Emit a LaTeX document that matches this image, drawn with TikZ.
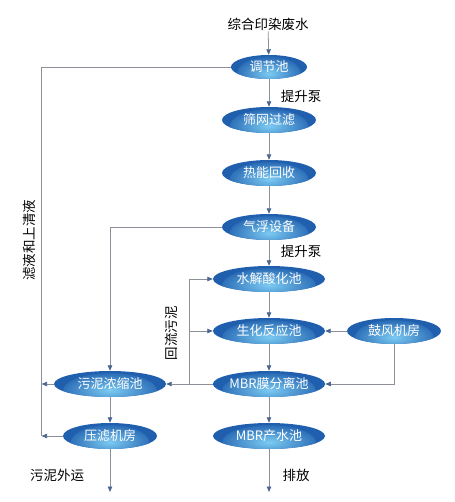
\documentclass[tikz,border=0pt]{standalone}
\usepackage{fontspec}
\setmainfont{Noto Sans CJK SC}
\usetikzlibrary{arrows.meta,shapes.geometric}
\definecolor{elldark}{HTML}{1F5FAE}
\definecolor{elllight}{HTML}{7CCBF2}
\definecolor{linegray}{HTML}{8C9098}
\definecolor{tipblue}{HTML}{4A6690}
\tikzset{
  proc/.style={ellipse, inner sep=0pt, minimum height=26pt, minimum width=#1,
    fill=elldark, text=white, font=\fontsize{13}{15}\selectfont,
    path picture={\shade[inner color=elllight, outer color=elldark]
      ([yshift=-7pt]path picture bounding box.center) ellipse [x radius=0.42*#1, y radius=18pt];}},
  proc/.default=94pt,
  conn/.style={draw=linegray, line width=0.8pt},
  arr/.style={conn, -{Triangle[width=4.5pt,length=5.5pt,color=tipblue]}},
  lbl/.style={text=black, font=\fontsize{13.5}{15}\selectfont, inner sep=1pt}
}
\begin{document}
\begin{tikzpicture}[x=1pt,y=-1pt]
\useasboundingbox (0,0) rectangle (454,502);
\node[lbl] (src) at (268,24) {综合印染废水};
\node[proc=76pt, minimum height=24pt] (tj) at (269,67) {调节池};
\node[proc] (sw) at (269,120) {筛网过滤};
\node[proc] (rn) at (269,173) {热能回收};
\node[proc] (qf) at (269,227) {气浮设备};
\node[proc=112pt] (sj) at (269,279) {水解酸化池};
\node[proc=112pt] (sh) at (269,331) {生化反应池};
\node[proc] (gf) at (394,331) {鼓风机房};
\node[proc=112pt] (mbr) at (269,384) {MBR膜分离池};
\node[proc=112pt] (wn) at (110,384) {污泥浓缩池};
\node[proc] (yl) at (110,436) {压滤机房};
\node[proc=112pt] (cs) at (269,436) {MBR产水池};
\node[lbl] (p1) at (301,96) {提升泵};
\node[lbl] (p2) at (301,251) {提升泵};
\node[lbl] (out1) at (57,475) {污泥外运};
\node[lbl] (out2) at (296,475) {排放};
\node[lbl, rotate=90] (hl) at (171,333) {回流污泥};
\node[lbl, rotate=90] (ly) at (29,240) {滤液和上清液};
\coordinate (e1) at (110,492);
\coordinate (e2) at (269,492);
\coordinate (lt) at (41,67);
\coordinate (lb) at (41,436);
\coordinate (lw) at (41.6,384);
\coordinate (ly2) at (41.6,436);
\coordinate (rb) at (189,384);
\coordinate (rm) at (189,331);
% main chain
\draw[arr] (src) -- (tj);
\draw[arr] (tj) -- (sw);
\draw[arr] (sw) -- (rn);
\draw[arr] (rn) -- (qf);
\draw[arr] (qf) -- (sj);
\draw[arr] (sj) -- (sh);
\draw[arr] (sh) -- (mbr);
\draw[arr] (mbr) -- (cs);
\draw[arr] (cs) -- (e2);
\draw[arr] (wn) -- (yl);
\draw[arr] (yl) -- (e1);
% left return line
\draw[conn] (tj.west) -- (lt) -- (lb);
\draw[arr] (wn.west) -- (lw);
\draw[arr] (yl.west) -- (ly2);
% float sludge
\draw[arr] (qf.west) -| (wn.north);
% return sludge
\draw[arr] (mbr.west) -- (wn.east);
\draw[arr] (rb) |- (sj.west);
\draw[arr] (rm) -- (sh.west);
% blower
\draw[arr] (gf.west) -- (sh.east);
\draw[arr] (gf.south) |- (mbr.east);
\end{tikzpicture}
\end{document}
